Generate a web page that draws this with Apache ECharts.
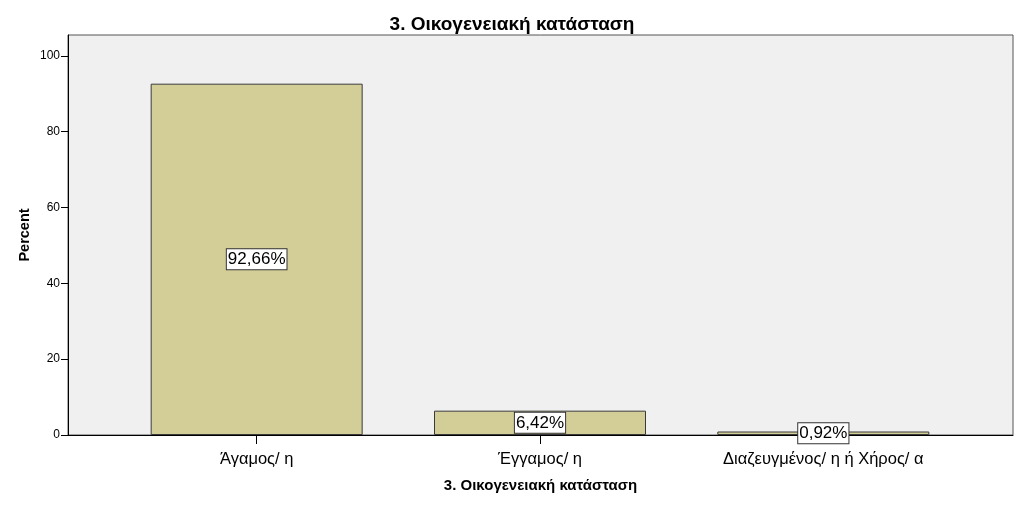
<!DOCTYPE html>
<html>
<head>
<meta charset="utf-8">
<script src="https://cdn.jsdelivr.net/npm/echarts@6/dist/echarts.min.js"></script>
<style>
	html, body { margin: 0; padding: 0; background: #fff; }
	#chart { width: 1024px; height: 505px; }
</style>
</head>
<body>
<div id="chart"></div>
<script>
var chartTitle = '3. Οικογενειακή κατάσταση';
var categories = ['Άγαμος/ η', 'Έγγαμος/ η', 'Διαζευγμένος/ η ή Χήρος/ α'];
var percents = [92.66, 6.42, 0.92];
var yTicks = [0, 20, 40, 60, 80, 100];
var yMax = 105.5;

var font = 'Arial, "Liberation Sans", sans-serif';

function fmtPct(v) {
	return v.toFixed(2).replace('.', ',') + '%';
}

function showChart(id) {
	let chart = echarts.init(document.getElementById(id));
	let option = {
		animation: false,
		title: {
			text: chartTitle,
			left: 'center',
			top: 10,
			textStyle: {
				fontFamily: font,
				fontSize: 19,
				fontWeight: 'bold',
				color: '#000'
			}
		},
		grid: [{
			// outer frame
			left: 68,
			right: 11,
			top: 35,
			bottom: 70,
			show: true,
			backgroundColor: '#f0f0f0',
			borderColor: '#555',
			borderWidth: 1
		}, {
			// bars
			left: 115,
			right: 59,
			top: 35,
			bottom: 70
		}],
		xAxis: [{
			gridIndex: 0,
			type: 'value',
			min: 0,
			max: 1,
			name: chartTitle,
			nameLocation: 'middle',
			nameGap: 43,
			nameTextStyle: {
				fontFamily: font,
				fontSize: 15,
				fontWeight: 'bold',
				color: '#000'
			},
			axisLine: { show: true, lineStyle: { color: '#000', width: 1 } },
			axisTick: { show: false },
			axisLabel: { show: false },
			splitLine: { show: false }
		}, {
			gridIndex: 1,
			type: 'category',
			data: categories,
			axisLine: { show: false },
			axisTick: {
				show: true,
				alignWithLabel: true,
				length: 9,
				lineStyle: { color: '#000' }
			},
			axisLabel: {
				fontFamily: font,
				fontSize: 16.5,
				color: '#000',
				margin: 16
			}
		}],
		yAxis: [{
			gridIndex: 0,
			type: 'value',
			min: 0,
			max: yMax,
			interval: 20,
			name: 'Percent',
			nameLocation: 'middle',
			nameGap: 36,
			nameMoveOverlap: false,
			nameTextStyle: {
				fontFamily: font,
				fontSize: 14.5,
				fontWeight: 'bold',
				color: '#000'
			},
			axisLine: { show: true, lineStyle: { color: '#000', width: 1 } },
			axisTick: {
				show: true,
				length: 7,
				customValues: yTicks,
				lineStyle: { color: '#000' }
			},
			axisLabel: {
				fontFamily: font,
				fontSize: 12,
				color: '#000',
				margin: 8,
				customValues: yTicks
			},
			splitLine: { show: false }
		}, {
			gridIndex: 1,
			type: 'value',
			min: 0,
			max: yMax,
			show: false
		}],
		series: [{
			type: 'bar',
			xAxisIndex: 1,
			yAxisIndex: 1,
			data: percents,
			barWidth: 212,
			itemStyle: {
				color: '#d3ce98',
				borderColor: '#3a3a3a',
				borderWidth: 1
			},
			label: {
				show: true,
				position: 'inside',
				formatter: function(p) {
					return fmtPct(p.value);
				},
				fontFamily: font,
				fontSize: 17,
				color: '#000',
				backgroundColor: '#fff',
				borderColor: '#333',
				borderWidth: 1,
				padding: [2, 1, 1, 1]
			}
		}]
	};
	chart.setOption(option);
}

showChart('chart');
</script>
</body>
</html>
